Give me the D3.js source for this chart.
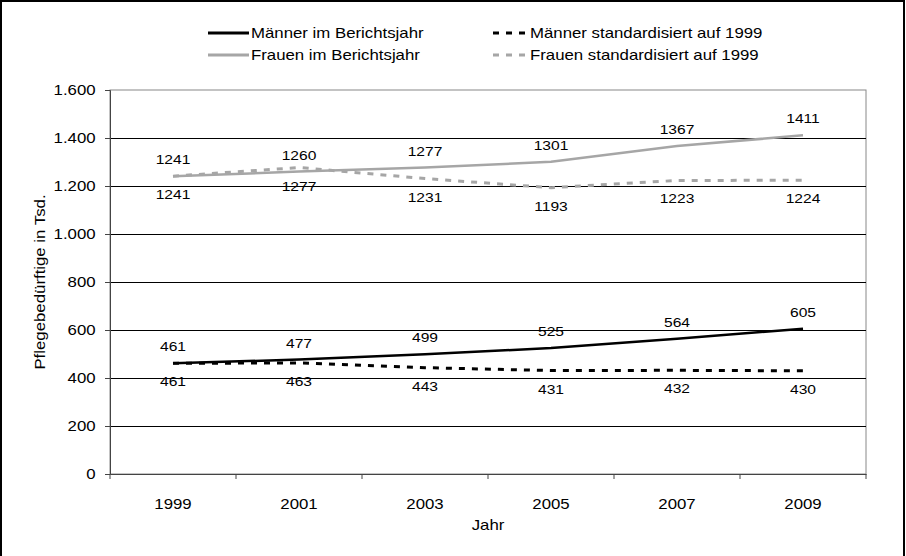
<!DOCTYPE html>
<html>
<head>
<meta charset="utf-8">
<script src="https://cdn.jsdelivr.net/npm/d3@7"></script>
<style>
  body { margin: 0; background: #fff; }
  svg text { font-family: "Liberation Sans", Arial, sans-serif; fill: #000; }
</style>
</head>
<body>
<div id="chart"></div>
<script>
// Jahre auf der x-Achse
const years = ["1999", "2001", "2003", "2005", "2007", "2009"];
// Pflegebedürftige in Tsd.
const maennerBericht = [461, 477, 499, 525, 564, 605];
const maennerStd = [461, 463, 443, 431, 432, 430];
const frauenBericht = [1241, 1260, 1277, 1301, 1367, 1411];
const frauenStd = [1241, 1277, 1231, 1193, 1223, 1224];
const yTicks = [0, 200, 400, 600, 800, 1000, 1200, 1400, 1600];

const W = 906, H = 556;
const margin = { left: 110, top: 90, right: 40, bottom: 82 };
const width = W - margin.left - margin.right;
const height = H - margin.top - margin.bottom;
const sx = 1.2; // Schrift etwas breiter laufen lassen

const grey = "#a6a6a6";

const series = [
  { name: "Männer im Berichtsjahr", values: maennerBericht, color: "#000", dash: null, pos: "above" },
  { name: "Männer standardisiert auf 1999", values: maennerStd, color: "#000", dash: "6,7", pos: "below" },
  { name: "Frauen im Berichtsjahr", values: frauenBericht, color: grey, dash: null, pos: "above" },
  { name: "Frauen standardisiert auf 1999", values: frauenStd, color: grey, dash: "6,7", pos: "below" },
];

const svg = d3.select("#chart").append("svg")
  .attr("width", W).attr("height", H);

svg.append("rect").attr("width", W).attr("height", H).attr("fill", "#fff");
// äußerer Rahmen (unten abgeschnitten)
svg.append("rect")
  .attr("x", 1).attr("y", 1).attr("width", W - 3).attr("height", H + 20)
  .attr("fill", "none").attr("stroke", "#000").attr("stroke-width", 2);

const xScale = d3.scaleBand().domain(years).range([0, width]);
const yScale = d3.scaleLinear().domain([0, 1600]).range([height, 0]);
const xc = d => xScale(d) + xScale.bandwidth() / 2;

const g = svg.append("g").attr("transform", `translate(${margin.left},${margin.top})`);

// Rahmen der Zeichenfläche
g.append("rect")
  .attr("x", 0).attr("y", 0).attr("width", width).attr("height", height)
  .attr("fill", "none").attr("stroke", "#888").attr("stroke-width", 1);

// Gitterlinien
g.append("g").selectAll("line")
  .data(yTicks.filter(d => d > 0 && d < 1600))
  .enter().append("line")
  .attr("x1", 0).attr("x2", width)
  .attr("y1", d => Math.round(yScale(d)) + 0.5).attr("y2", d => Math.round(yScale(d)) + 0.5)
  .attr("stroke", "#000").attr("stroke-width", 1);

// y-Achse
const yAxis = g.append("g")
  .call(d3.axisLeft(yScale).tickValues(yTicks).tickSize(5).tickPadding(7)
    .tickFormat(d => d3.format(",")(d).replace(/,/g, ".")));
yAxis.select(".domain").attr("stroke", "#444");
yAxis.selectAll(".tick line").attr("stroke", "#444");
yAxis.selectAll("text").attr("font-size", 14).attr("transform", `scale(${sx},1)`);

// x-Achse mit Teilstrichen an den Bandgrenzen
const xAxisG = g.append("g").attr("transform", `translate(0,${height})`);
xAxisG.call(d3.axisBottom(xScale).tickSize(0).tickPadding(25));
xAxisG.select(".domain").attr("stroke", "#444");
xAxisG.selectAll("text").attr("font-size", 14).attr("transform", `scale(${sx},1)`);
xAxisG.selectAll(".edge")
  .data(years.map(d => xScale(d)).concat([width]))
  .enter().append("line")
  .attr("class", "edge")
  .attr("x1", d => d).attr("x2", d => d)
  .attr("y1", 0).attr("y2", 5)
  .attr("stroke", "#444");

// Linien
const line = d3.line()
  .x((d, i) => xc(years[i]))
  .y(d => yScale(d));

series.forEach(s => {
  g.append("path")
    .datum(s.values)
    .attr("d", line)
    .attr("fill", "none")
    .attr("stroke", s.color)
    .attr("stroke-width", s.dash ? 3 : 2.5)
    .attr("stroke-dasharray", s.dash);
});

// Datenbeschriftungen
series.forEach(s => {
  g.append("g").selectAll("text")
    .data(s.values)
    .enter().append("text")
    .attr("transform", (d, i) =>
      `translate(${xc(years[i])},${yScale(d) + (s.pos === "above" ? -12 : 23)}) scale(${sx},1)`)
    .attr("text-anchor", "middle")
    .attr("font-size", 13)
    .text(d => d);
});

// Achsentitel
svg.append("text")
  .attr("transform", `translate(45,${margin.top + height / 2}) rotate(-90) scale(${sx},1)`)
  .attr("text-anchor", "middle")
  .attr("font-size", 14)
  .text("Pflegebedürftige in Tsd.");

svg.append("text")
  .attr("transform", `translate(${margin.left + width / 2},530) scale(${sx},1)`)
  .attr("text-anchor", "middle")
  .attr("font-size", 14)
  .text("Jahr");

// Legende
const legendPos = [
  { x: 208, y: 33 }, { x: 493, y: 33 },
  { x: 208, y: 55 }, { x: 493, y: 55 },
];
series.forEach((s, i) => {
  const p = legendPos[i];
  const lg = svg.append("g").attr("transform", `translate(${p.x},${p.y})`);
  lg.append("line")
    .attr("x1", 0).attr("x2", s.dash ? 32 : 41)
    .attr("y1", 0).attr("y2", 0)
    .attr("stroke", s.color)
    .attr("stroke-width", 3)
    .attr("stroke-dasharray", s.dash);
  lg.append("text")
    .attr("transform", `translate(${s.dash ? 37 : 43},5) scale(${sx},1)`)
    .attr("font-size", 14)
    .text(s.name);
});
</script>
</body>
</html>
